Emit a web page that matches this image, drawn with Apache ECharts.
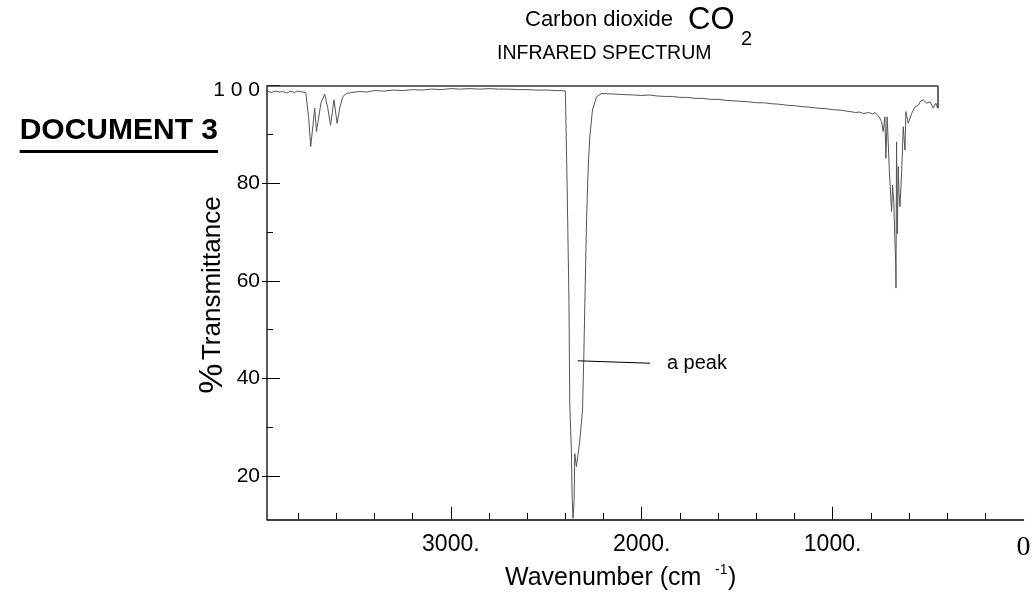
<!DOCTYPE html>
<html>
<head>
<meta charset="utf-8">
<script src="https://cdn.jsdelivr.net/npm/echarts@6/dist/echarts.min.js"></script>
<style>
html,body{margin:0;padding:0;background:#fff;}
#chart{width:1034px;height:595px;}
</style>
</head>
<body>
<div id="chart"></div>
<script>
// ---- data ----
var wavenumbers = [3963,3940,3920,3900,3880,3860,3840,3820,3800,3780,3770,3760,3745,3734,3713,3704,3680,3661,3645,3630,3612,3596,3580,3565,3547,3520,3480,3440,3400,3350,3300,3250,3200,3150,3100,3050,3000,2950,2900,2850,2800,2750,2700,2650,2600,2550,2500,2450,2420,2400,2394,2391,2381,2377,2368,2365,2360,2354,2351,2342,2324,2310,2303,2298,2289,2281,2272,2258,2237,2211,2150,2100,2045,2000,1960,1922,1880,1840,1800,1760,1720,1680,1640,1600,1560,1520,1480,1440,1400,1360,1320,1280,1240,1200,1160,1120,1080,1040,1000,960,930,909,880,860,840,810,790,778,760,743,735,726,721,714,703,691,686,679,675,670,668,665,661,656,652,647,638,630,621,616,604,586,569,551,540,525,507,490,473,459,450];
var transmittance = [98.9,98.6,98.9,98.7,98.8,98.5,98.9,98.6,98.9,98.7,98.9,98.6,93.5,87.5,95.4,90.6,96.5,98.3,95.5,91.9,97.1,92.3,95.8,97.8,98.4,98.6,98.8,98.7,99.0,98.9,99.1,99.0,99.2,99.1,99.3,99.2,99.4,99.3,99.4,99.3,99.4,99.3,99.3,99.2,99.2,99.1,99.1,99.0,99.0,98.9,98.8,80.0,55.4,34.9,24.7,16.5,11.3,15.1,24.6,21.9,27.4,33.5,45.1,55.4,72.5,82.7,89.5,95.0,97.7,98.4,98.3,98.2,98.1,98.0,98.1,97.9,97.8,97.8,97.6,97.6,97.4,97.4,97.2,97.2,97.0,96.9,96.8,96.7,96.5,96.5,96.3,96.2,96.0,95.9,95.7,95.6,95.4,95.3,95.1,95.0,94.8,94.7,94.5,94.6,94.3,94.5,94.2,94.5,93.8,92.6,90.6,93.6,85.1,93.6,82.7,74.2,79.6,75.9,69.7,64.3,58.5,88.5,69.7,83.4,77.9,75.2,82.7,91.6,86.8,94.7,92.3,94.3,95.6,96.0,96.8,97.1,96.4,96.7,95.4,96.4,95.4];
var xMajorTicks = [1000, 2000, 3000];
var xLabelValues = [0, 1000, 2000, 3000];
var yMajorTicks = [20, 40, 60, 80, 100];
var yOuterStubs = [20, 40, 60, 80];
var xRange = [0, 3963];
var yRange = [11.1, 100];
var peakNote = {text: 'a peak', from: [2335, 43.6], to: [1957, 43.1]};

var points = wavenumbers.map(function (w, i) { return [w, transmittance[i]]; });
var lastW = wavenumbers[wavenumbers.length - 1];
var lastT = transmittance[transmittance.length - 1];

var chart = echarts.init(document.getElementById('chart'), null, {renderer: 'canvas'});

var ctx = document.createElement('canvas').getContext('2d');
ctx.font = 'bold 30px "Liberation Sans"';
var docW = ctx.measureText('DOCUMENT 3').width;

var option = {
  animation: false,
  backgroundColor: '#ffffff',
  grid: {left: 267, right: 10.5, top: 85.7, bottom: 75.7, containLabel: false},
  xAxis: {
    type: 'value', inverse: true, min: xRange[0], max: xRange[1], interval: 1000,
    axisLine: {show: true, onZero: false, lineStyle: {color: '#000', width: 1.5}},
    axisTick: {show: true, inside: true, length: 12.5, customValues: xMajorTicks, lineStyle: {color: '#000', width: 1}},
    minorTick: {show: true, splitNumber: 5, length: 6.5, lineStyle: {color: '#000', width: 1}},
    axisLabel: {
      customValues: xLabelValues,
      margin: 14, fontFamily: 'Liberation Sans', fontSize: 23, color: '#000',
      formatter: function (v) { return v === 0 ? '{z|0}' : v + '.'; },
      rich: {z: {fontFamily: 'Liberation Serif', fontSize: 28, color: '#000'}}
    },
    splitLine: {show: false}
  },
  yAxis: [{
    type: 'value', min: yRange[0], max: yRange[1], minInterval: 20, maxInterval: 20, position: 'left',
    axisLine: {show: true, onZero: false, lineStyle: {color: '#222', width: 1.5}},
    axisTick: {show: true, inside: true, length: 13, customValues: yMajorTicks, lineStyle: {color: '#000', width: 1}},
    minorTick: {show: true, splitNumber: 2, length: 6, lineStyle: {color: '#000', width: 1}},
    axisLabel: {
      customValues: yMajorTicks, margin: 7, fontFamily: 'Liberation Sans', fontSize: 21, color: '#000',
      formatter: function (v) { return v === 100 ? '{t|1 0 0}' : String(v); },
      rich: {t: {fontFamily: 'Liberation Sans', fontSize: 21, color: '#000', padding: [10, 0, 0, 0]}}
    },
    splitLine: {show: false}
  }, {
    type: 'value', min: yRange[0], max: yRange[1], position: 'left', offset: 0,
    axisLine: {show: false, onZero: false},
    axisTick: {show: true, inside: false, length: 5, customValues: yOuterStubs, lineStyle: {color: '#000', width: 1}},
    axisLabel: {show: false},
    splitLine: {show: false}
  }],
  series: [{
    type: 'line', data: points, yAxisIndex: 0, showSymbol: false, symbol: 'none',
    lineStyle: {color: '#555', width: 1}, clip: false,
    markLine: {
      silent: true, symbol: ['none', 'none'], animation: false,
      data: [
        [{coord: [xRange[1], yRange[1]], lineStyle: {color: '#333', width: 1.5, type: 'solid'}, label: {show: false}},
         {coord: [lastW, yRange[1]]}],
        [{coord: [lastW, yRange[1]], lineStyle: {color: '#333', width: 1.5, type: 'solid'}, label: {show: false}},
         {coord: [lastW, lastT]}],
        [{coord: peakNote.from, lineStyle: {color: '#000', width: 1, type: 'solid'},
          label: {show: true, position: 'end', distance: 17, formatter: peakNote.text, color: '#000', fontFamily: 'Liberation Sans', fontSize: 20}},
         {coord: peakNote.to}]
      ]
    }
  }],
  graphic: [
    {type: 'text', left: 525, top: 9, style: {text: 'Carbon dioxide', fontFamily: 'Liberation Sans', fontSize: 22, fill: '#000'}},
    {type: 'text', left: 688, top: 5, style: {text: 'CO', fontFamily: 'Liberation Sans', fontSize: 31, fill: '#000'}},
    {type: 'text', left: 741, top: 29, style: {text: '2', fontFamily: 'Liberation Sans', fontSize: 20, fill: '#000'}},
    {type: 'text', left: 497, top: 44, style: {text: 'INFRARED SPECTRUM', fontFamily: 'Liberation Sans', fontSize: 19.5, fill: '#000'}},
    {type: 'text', left: 218 - docW, top: 116, style: {text: 'DOCUMENT 3', fontFamily: 'Liberation Sans', fontWeight: 'bold', fontSize: 30, fill: '#000'}},
    {type: 'rect', shape: {x: 218 - docW, y: 150, width: docW, height: 3}, style: {fill: '#000'}},
    {type: 'text', x: 213, y: 295, rotation: Math.PI / 2,
      style: {text: '{p|%} {t|Transmittance}', textAlign: 'center', textVerticalAlign: 'middle',
        rich: {p: {fontFamily: 'Liberation Sans', fontSize: 34, fill: '#000'}, t: {fontFamily: 'Liberation Sans', fontSize: 26, fill: '#000'}}}},
    {type: 'text', left: 505, top: 566, style: {text: 'Wavenumber (cm', fontFamily: 'Liberation Sans', fontSize: 25, fill: '#000'}},
    {type: 'text', left: 715, top: 563, style: {text: '-1', fontFamily: 'Liberation Sans', fontSize: 14, fill: '#000'}},
    {type: 'text', left: 728, top: 566, style: {text: ')', fontFamily: 'Liberation Sans', fontSize: 25, fill: '#000'}}
  ]
};
chart.setOption(option);
</script>
</body>
</html>
